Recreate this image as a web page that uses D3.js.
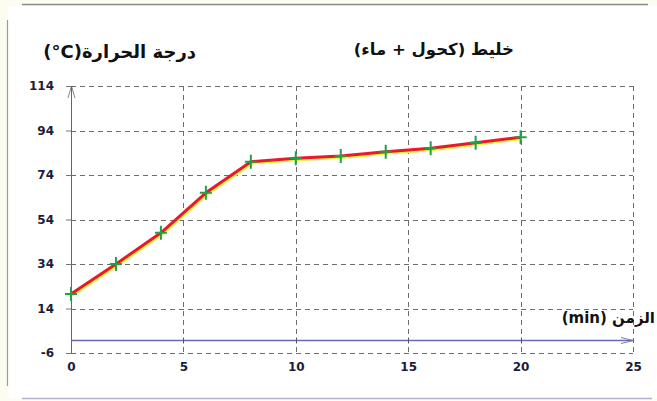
<!DOCTYPE html>
<html>
<head>
<meta charset="utf-8">
<script src="https://cdn.jsdelivr.net/npm/d3@7/dist/d3.min.js"></script>
<style>
html,body{margin:0;padding:0;background:#ffffff;}
svg{display:block;}
</style>
</head>
<body>
<svg id="chart" width="657" height="401"></svg>
<script>
// ---- data ----
const timeMin = [0, 2, 4, 6, 8, 10, 12, 14, 16, 18, 20];
const temperature = [20.5, 34, 48, 66, 80, 81.5, 82.5, 84.5, 86, 88.5, 91];
const xTicks = [0, 5, 10, 15, 20, 25];
const yTicks = [-6, 14, 34, 54, 74, 94, 114];
const titleText = "خليط (كحول + ماء)";
const yLabelText = "درجة الحرارة\u200E(°C)\u200E";
const xLabelText = "الزمن (min)";

const svg = d3.select("#chart");
const W = 657, H = 401;

// page frame
svg.append("rect").attr("x",0).attr("y",0).attr("width",W).attr("height",H).attr("fill","#fdfcf0");
svg.append("rect").attr("x",8).attr("y",6).attr("width",W-8).attr("height",H-9).attr("fill","#ffffff");
svg.append("line").attr("x1",22).attr("x2",648).attr("y1",4.5).attr("y2",4.5).attr("stroke","#8a8a8a").attr("stroke-width",1.5);
svg.append("line").attr("x1",7.5).attr("x2",7.5).attr("y1",20).attr("y2",386).attr("stroke","#9a9a9a").attr("stroke-width",1.2);
svg.append("line").attr("x1",22).attr("x2",652).attr("y1",398.5).attr("y2",398.5).attr("stroke","#b0b0d0").attr("stroke-width",1.5);

const x = d3.scaleLinear().domain([0, 25]).range([71, 633]);
const y = d3.scaleLinear().domain([-6, 114]).range([353, 86]);

// grid
const grid = svg.append("g");
grid.selectAll(".hg").data(yTicks).enter().append("line")
  .attr("x1", x(0)).attr("x2", x(25))
  .attr("y1", d => Math.round(y(d))+0.5).attr("y2", d => Math.round(y(d))+0.5)
  .attr("stroke","#6e6e6e").attr("stroke-width",1).attr("stroke-dasharray","5,4");
grid.selectAll(".vg").data(xTicks.filter(d => d > 0)).enter().append("line")
  .attr("x1", d => Math.round(x(d))+0.5).attr("x2", d => Math.round(x(d))+0.5)
  .attr("y1", y(114)).attr("y2", y(-6))
  .attr("stroke","#6e6e6e").attr("stroke-width",1).attr("stroke-dasharray","5,4");

const fmt = d => String(d);

// y axis (tick labels) via d3 axis
const yAxis = svg.append("g").attr("transform", `translate(${x(0)},0)`)
  .call(d3.axisLeft(y).tickValues(yTicks).tickFormat(fmt).tickSize(5).tickPadding(12));
yAxis.select(".domain").remove();
yAxis.selectAll(".tick line").attr("stroke","#777");
yAxis.selectAll("text").attr("font-family","DejaVu Sans, Verdana, sans-serif")
  .attr("font-size",12).attr("font-weight","bold").attr("fill","#1c1c3c");

// x axis tick labels
const xAxis = svg.append("g").attr("transform", `translate(0,${y(-6)})`)
  .call(d3.axisBottom(x).tickValues(xTicks).tickFormat(fmt).tickSize(0).tickPadding(9));
xAxis.select(".domain").remove();
xAxis.selectAll("text").attr("font-family","DejaVu Sans, Verdana, sans-serif")
  .attr("font-size",12).attr("font-weight","bold").attr("fill","#1c1c3c");

// y axis line with arrow
svg.append("line").attr("x1", x(0)+0.5).attr("x2", x(0)+0.5).attr("y1", y(-6)).attr("y2", y(114))
  .attr("stroke","#666").attr("stroke-width",1);
svg.append("path")
  .attr("d", `M${x(0)-3},${y(114)+12} L${x(0)+0.5},${y(114)} L${x(0)+4},${y(114)+12}`)
  .attr("fill","none").attr("stroke","#666").attr("stroke-width",0.8);

// x axis line (at 0) with arrow
const y0 = Math.round(y(0))+0.5;
svg.append("line").attr("x1", x(0)).attr("x2", x(25)).attr("y1", y0).attr("y2", y0)
  .attr("stroke","#6a6ab0").attr("stroke-width",1.6);
svg.append("path")
  .attr("d", `M${x(25)-12},${y0-3} L${x(25)},${y0} L${x(25)-12},${y0+3}`)
  .attr("fill","none").attr("stroke","#6a6ab0").attr("stroke-width",0.9);
svg.selectAll(".xt").data(xTicks.filter(d => d > 0 && d < 25)).enter().append("line")
  .attr("x1", d => Math.round(x(d))+0.5).attr("x2", d => Math.round(x(d))+0.5)
  .attr("y1", y0-3).attr("y2", y0+3).attr("stroke","#555").attr("stroke-width",1);

// data line
const pts = timeMin.map((t,i) => [t, temperature[i]]);
const lineGen = d3.line().x(d => x(d[0])).y(d => y(d[1]));
svg.append("path").datum(pts).attr("d", lineGen)
  .attr("transform","translate(1,1.5)")
  .attr("fill","none").attr("stroke","#f6f23a").attr("stroke-width",3).attr("stroke-linejoin","round");
svg.append("path").datum(pts).attr("d", lineGen)
  .attr("fill","none").attr("stroke","#e8192a").attr("stroke-width",3).attr("stroke-linejoin","round");

// markers
const mk = svg.append("g");
mk.selectAll(".m").data(pts).enter().append("path")
  .attr("d", d => { const cx = x(d[0]), cy = y(d[1]);
    return `M${cx-6},${cy} L${cx+6},${cy} M${cx},${cy-7} L${cx},${cy+7}`; })
  .attr("stroke","#1fa04a").attr("stroke-width",2);

// texts
svg.append("text").attr("x", 514).attr("y", 55)
  .attr("direction","rtl").attr("text-anchor","start")
  .attr("font-family","DejaVu Sans, sans-serif").attr("font-size",16.5).attr("font-weight","bold")
  .attr("fill","#111").text(titleText);
svg.append("text").attr("x", 196).attr("y", 58)
  .attr("direction","rtl").attr("text-anchor","start")
  .attr("font-family","DejaVu Sans, sans-serif").attr("font-size",18).attr("font-weight","bold")
  .attr("fill","#111").text(yLabelText);
svg.append("text").attr("x", 655).attr("y", 323)
  .attr("direction","rtl").attr("text-anchor","start")
  .attr("font-family","DejaVu Sans, sans-serif").attr("font-size",15).attr("font-weight","bold")
  .attr("fill","#111").text(xLabelText);
</script>
</body>
</html>
